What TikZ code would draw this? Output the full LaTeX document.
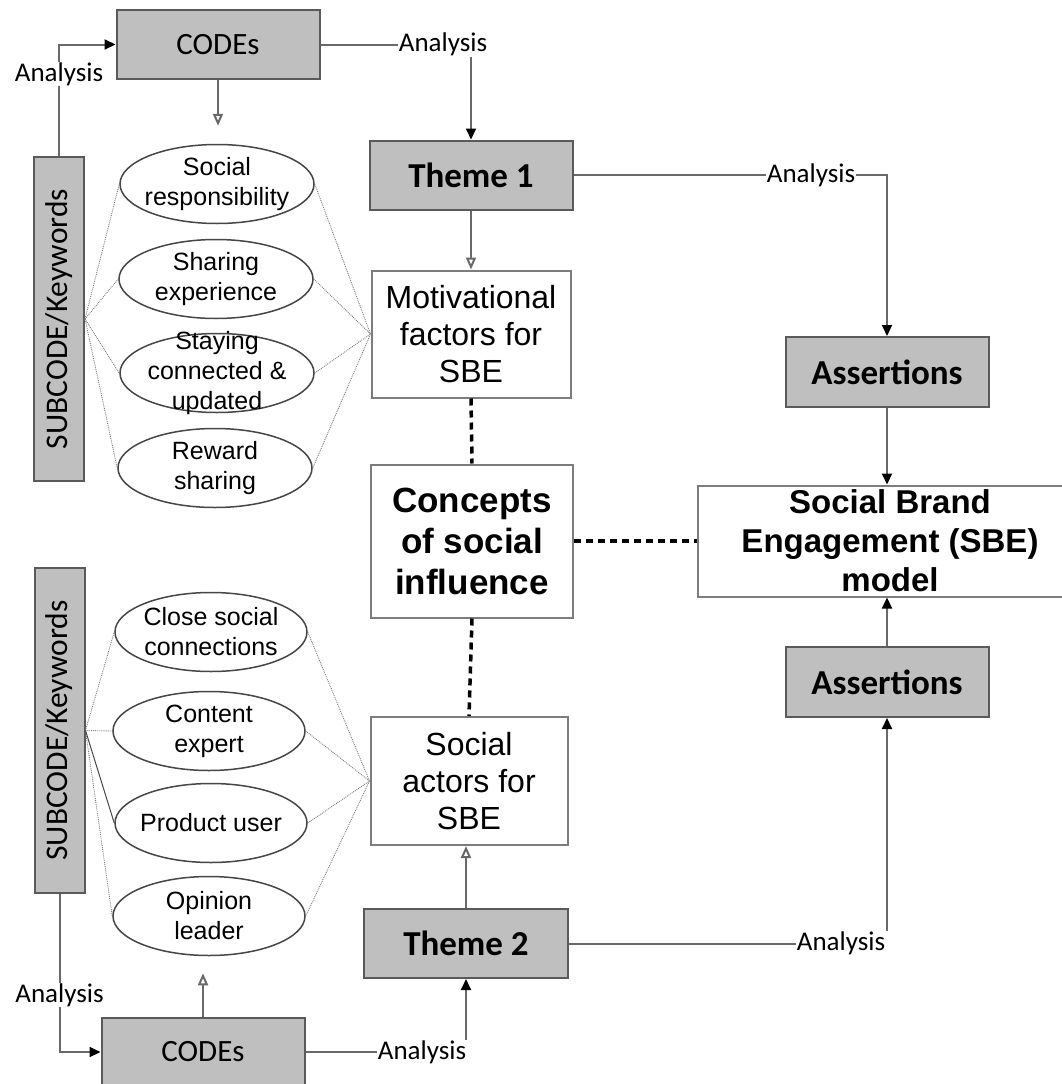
\documentclass[tikz,border=0pt]{standalone}
\usepackage{fontspec}
\setmainfont{Liberation Sans}
\newfontfamily\calfont{Carlito}
\usepackage{tikz}
\usetikzlibrary{shapes.geometric, arrows.meta, calc}
\definecolor{boxgray}{RGB}{191, 191, 191}
\definecolor{boxline}{RGB}{90, 90, 90}
\definecolor{plainline}{RGB}{125, 125, 125}
\definecolor{linkgray}{RGB}{105, 105, 105}
\definecolor{ellline}{RGB}{70, 70, 70}

\begin{document}
\begin{tikzpicture}[
    x=1pt, y=-1pt,
    graybox/.style={rectangle, draw=boxline, fill=boxgray, line width=2pt,
                    minimum width=203pt, minimum height=69pt, inner sep=0pt},
    plainbox/.style={rectangle, draw=plainline, fill=white, line width=2pt,
                     minimum width=200pt, align=center, inner sep=0pt},
    codesbox/.style={graybox, font=\calfont\fontsize{31}{36}\selectfont},
    themebox/.style={graybox, font=\calfont\bfseries\fontsize{35}{40}\selectfont},
    subbox/.style={graybox, minimum width=50pt, minimum height=324pt,
                   font=\calfont\fontsize{31.5}{36}\selectfont},
    kw/.style={ellipse, draw=ellline, line width=1.5pt, fill=white,
               minimum width=194pt, minimum height=79pt, inner sep=0pt},
    kwtext/.style={align=center, inner sep=0pt, font=\fontsize{25}{30}\selectfont},
    anl/.style={inner sep=0.5pt, font=\calfont\fontsize{27}{30}\selectfont},
    link/.style={draw=linkgray, line width=2pt},
    arr/.style={-{Triangle[length=11pt, width=10pt, color=black]}},
    openarr/.style={-{Triangle[open, length=12pt, width=10pt, fill=white]}},
    dotlink/.style={draw=plainline, line width=0.9pt, densely dotted},
    bigdash/.style={draw=black, line width=3.5pt, dash pattern=on 7pt off 5pt}
]
    \useasboundingbox (0,0) rectangle (1062,1084);
    \clip (0,0) rectangle (1062,1084);

    \node[codesbox] (codes1) at (218, 44.5) {CODEs};
    \node[codesbox] (codes2) at (203, 1052) {CODEs};
    \node[subbox] (sub1) at (59, 319) {\rotatebox{90}{SUBCODE/Keywords}};
    \node[subbox, minimum height=325pt] (sub2) at (59.5, 730.5) {\rotatebox{90}{SUBCODE/Keywords}};
    \node[themebox] (theme1) at (471, 175) {Theme 1};
    \node[themebox, minimum width=204pt] (theme2) at (466, 943.5) {Theme 2};
    \node[themebox, minimum height=70pt] (assert1) at (887, 372) {Assertions};
    \node[themebox, minimum height=70pt] (assert2) at (887, 682) {Assertions};

    \node[plainbox, minimum width=199pt, minimum height=127pt, font=\fontsize{32}{37}\selectfont]
        (motiv) at (471, 334) {Motivational\\factors for\\SBE};
    \node[plainbox, minimum width=202pt, minimum height=153pt, font=\bfseries\fontsize{35}{41}\selectfont]
        (concepts) at (472, 541) {Concepts\\of social\\influence};
    \node[plainbox, minimum width=197pt, minimum height=128pt, font=\fontsize{32}{37}\selectfont]
        (actors) at (469, 781) {Social\\actors for\\SBE};
    \node[plainbox, minimum width=384pt, minimum height=111pt, font=\bfseries\fontsize{33}{39}\selectfont]
        (sbe) at (890, 541) {Social Brand\\Engagement (SBE)\\model};

    \node[kw] (k1) at (217, 184) {};
    \node[kw] (k2) at (216, 279) {};
    \node[kw] (k3) at (217, 373) {};
    \node[kw] (k4) at (215, 468) {};
    \node[kwtext] (k1t) at (k1) {Social\\responsibility};
    \node[kwtext] (k2t) at (k2) {Sharing\\experience};
    \node[kwtext] (k3t) at (k3) {Staying\\connected \&\\updated};
    \node[kwtext] (k4t) at (k4) {Reward\\sharing};

    \node[kw, minimum width=192pt] (kb1) at (211, 632) {};
    \node[kw, minimum width=192pt] (kb2) at (209, 731) {};
    \node[kw, minimum width=192pt] (kb3) at (211, 823) {};
    \node[kw, minimum width=192pt] (kb4) at (209, 916) {};
    \node[kwtext] (kb1t) at (kb1) {Close social\\connections};
    \node[kwtext] (kb2t) at (kb2) {Content\\expert};
    \node[kwtext] (kb3t) at (kb3) {Product user};
    \node[kwtext] (kb4t) at (kb4) {Opinion\\leader};

    \node[anl] (anlTL) at (59, 74) {Analysis};
    \node[anl] (anlT) at (443, 44.5) {Analysis};
    \node[anl] (anlR) at (811, 175) {Analysis};
    \node[anl] (anlBR) at (841, 943.5) {Analysis};
    \node[anl] (anlB) at (422, 1052) {Analysis};
    \node[anl] (anlBL) at (59.5, 995) {Analysis};

    \draw[dotlink] (sub1.east) -- (k1.west) (sub1.east) -- (k2.west)
                   (sub1.east) -- (k3.west) (sub1.east) -- (k4.west);
    \draw[dotlink] (k1.east) -- (motiv.west) (k2.east) -- (motiv.west)
                   (k3.east) -- (motiv.west) (k4.east) -- (motiv.west);
    \draw[dotlink] (sub2.east) -- (kb1.west) (sub2.east) -- (kb2.west)
                   (sub2.east) -- (kb4.west);
    \draw[draw=ellline, line width=1pt] (sub2.east) -- (kb3.west);
    \draw[dotlink] (kb1.east) -- (actors.west) (kb2.east) -- (actors.west)
                   (kb3.east) -- (actors.west) (kb4.east) -- (actors.west);

    \draw[link] (sub1.north) -- (anlTL.south);
    \draw[link, arr] (anlTL.north) |- (codes1.west);
    \draw[link] (codes1.east) -- (codes1.east -| anlT.west);
    \draw[link, arr] (anlT.south -| theme1.north) -- (theme1.north);
    \draw[link, openarr, shorten >=18pt] (codes1.south) -- (codes1.south |- k1.north);
    \draw[link, openarr] (theme1.south) -- (motiv.north);
    \draw[link] (theme1.east) -- (theme1.east -| anlR.west);
    \draw[link, arr] (anlR.east) -| (assert1.north);
    \draw[link, arr] (assert1.south) -- (assert1.south |- sbe.north);

    \draw[link] (sub2.south) -- (anlBL.north);
    \draw[link, arr] (anlBL.south) |- (codes2.west);
    \draw[link, openarr, shorten >=17pt] (codes2.north) -- (codes2.north |- kb4.south);
    \draw[link] (codes2.east) -- (codes2.east -| anlB.west);
    \draw[link, arr] (anlB.north -| theme2.south) -- (theme2.south);
    \draw[link, openarr] (theme2.north) -- (theme2.north |- actors.south);
    \draw[link] (theme2.east) -- (theme2.east -| anlBR.west);
    \draw[link, arr] (anlBR.north -| assert2.south) -- (assert2.south);
    \draw[link, arr] (assert2.north) -- (assert2.north |- sbe.south);

    \draw[bigdash] (motiv.south) -- (concepts.north);
    \draw[bigdash] (concepts.south) -- (actors.north);
    \draw[bigdash] (concepts.east) -- (sbe.west);
\end{tikzpicture}
\end{document}
